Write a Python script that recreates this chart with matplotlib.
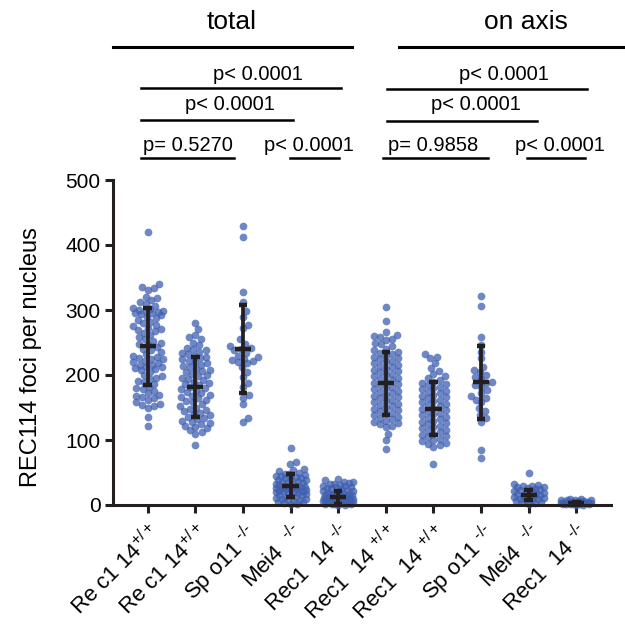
import numpy as np
import matplotlib
matplotlib.use('Agg')
import matplotlib.pyplot as plt
from matplotlib.lines import Line2D

plt.rcParams['font.family'] = ['Liberation Sans', 'DejaVu Sans']
plt.rcParams['mathtext.fontset'] = 'custom'
plt.rcParams['mathtext.rm'] = 'Liberation Sans'
plt.rcParams['mathtext.it'] = 'Liberation Sans'

# category labels (as in the figure, odd spacing included)
labels = ["Re c1 14$^{+/+}$", "Re c1 14$^{+/+}$", "Sp o11 $^{\u2010/\u2010}$", "Mei4  $^{\u2010/\u2010}$",
          "Rec1  14 $^{\u2010/\u2010}$", "Rec1  14 $^{+/+}$", "Rec1  14 $^{+/+}$", "Sp o11 $^{\u2010/\u2010}$",
          "Mei4  $^{\u2010/\u2010}$", "Rec1  14 $^{\u2010/\u2010}$"]

# foci per nucleus
rec114_wt_total = [420, 340, 336, 334, 331, 320, 318, 315, 312, 309, 306, 303, 301, 300, 299, 298, 297,
                   296, 295, 294, 292, 290, 287, 285, 282, 280, 277, 275, 273, 271, 270, 268, 265, 262,
                   258, 255, 252, 250, 248, 246, 243, 240, 238, 235, 232, 230, 228, 226, 225, 224, 222,
                   220, 218, 216, 215, 213, 212, 211, 210, 208, 205, 200, 198, 196, 194, 191, 189, 186,
                   182, 180, 178, 175, 172, 170, 168, 166, 164, 162, 158, 156, 154, 152, 150, 136, 122]
rec114_wt2_total = [280, 271, 262, 258, 255, 250, 246, 242, 240, 238, 236, 234, 232, 230, 228, 226, 224,
                    222, 220, 218, 216, 214, 212, 210, 208, 206, 204, 202, 200, 198, 196, 194, 192, 190,
                    188, 186, 184, 182, 180, 178, 176, 174, 172, 170, 168, 166, 164, 162, 160, 158, 155,
                    152, 150, 148, 146, 144, 142, 140, 138, 136, 134, 132, 130, 128, 126, 124, 122, 120,
                    118, 115, 112, 110, 93]
spo11_total = [430, 413, 327, 312, 298, 289, 277, 272, 255, 248, 245, 241, 240, 238, 234, 230, 228, 225,
               223, 222, 220, 218, 212, 205, 197, 187, 182, 169, 165, 155, 134, 128]
mei4_total = [88, 66, 63, 56, 54, 52, 50, 48, 47, 46, 45, 44, 43, 42, 41, 40, 39, 38, 37, 36, 35, 34, 33,
              32, 31, 30, 30, 29, 28, 28, 27, 26, 26, 25, 24, 24, 23, 22, 22, 21, 20, 20, 19, 18, 17, 16,
              15, 14, 13, 12, 11, 10, 9, 8, 7, 6, 5, 4, 3, 2, 1]
rec114_ko_total = [40, 38, 36, 35, 34, 33, 32, 31, 30, 29, 28, 27, 26, 25, 24, 23, 22, 21, 20, 19, 18, 18,
                   17, 16, 16, 15, 15, 14, 14, 13, 13, 12, 12, 11, 11, 10, 10, 9, 9, 8, 8, 7, 7, 6, 6, 5,
                   5, 4, 4, 3, 3, 2, 2, 1, 1, 0, 0]
rec114_wt_axis = [305, 283, 266, 262, 260, 258, 256, 254, 250, 247, 244, 240, 238, 236, 234, 232, 230, 228,
                  226, 224, 222, 220, 218, 216, 214, 212, 210, 208, 206, 204, 202, 200, 198, 196, 194, 192,
                  190, 188, 186, 184, 182, 180, 178, 176, 174, 172, 170, 168, 166, 164, 162, 160, 158, 156,
                  154, 152, 150, 148, 146, 144, 142, 140, 138, 136, 134, 132, 130, 128, 126, 124, 122, 120,
                  109, 100, 86]
rec114_wt2_axis = [232, 228, 226, 219, 211, 206, 202, 198, 195, 192, 190, 188, 186, 184, 182, 180, 178, 176,
                   174, 172, 170, 168, 166, 164, 162, 160, 158, 156, 154, 152, 150, 148, 146, 144, 142, 140,
                   138, 136, 134, 132, 130, 128, 126, 124, 122, 120, 118, 116, 114, 112, 110, 108, 106, 104,
                   102, 100, 98, 96, 94, 92, 90, 63]
spo11_axis = [322, 306, 259, 246, 236, 226, 213, 208, 204, 200, 197, 194, 190, 188, 185, 182, 177, 172, 168,
              165, 162, 158, 149, 145, 138, 134, 128, 85, 72]
mei4_axis = [49, 32, 31, 30, 29, 28, 27, 26, 25, 24, 23, 22, 21, 20, 19, 18, 17, 16, 15, 14, 13, 12, 11, 10,
             9, 8, 7, 6, 5, 4, 3, 2]
rec114_ko_axis = [10, 9, 8, 8, 7, 7, 6, 6, 5, 5, 5, 4, 4, 4, 3, 3, 3, 2, 2, 2, 1, 1, 1, 0, 0]

groups = [rec114_wt_total, rec114_wt2_total, spo11_total, mei4_total, rec114_ko_total,
          rec114_wt_axis, rec114_wt2_axis, spo11_axis, mei4_axis, rec114_ko_axis]

# mean and SD bars as drawn
means = [244, 181, 240, 30, 12, 187, 148, 189, 15, 3]
sds = [59, 46, 68, 18, 10, 48, 41, 56, 8, 2]

# p-value annotations: (text, text centre x px, text y px, line x0, line x1, line y)
pvals = [
    ("p< 0.0001", 258, 74, 141, 341, 88),
    ("p< 0.0001", 230, 105, 141, 293, 120),
    ("p= 0.5270", 188, 145, 141, 234, 158),
    ("p< 0.0001", 309, 145, 290, 339, 158),
    ("p< 0.0001", 504, 74, 387, 587, 89),
    ("p< 0.0001", 476, 105, 387, 537, 121),
    ("p= 0.9858", 433, 145, 383, 488, 158),
    ("p< 0.0001", 560, 145, 527, 585, 158),
]
headers = [("total", 232, 22, 113, 352, 47), ("on axis", 526, 22, 399, 624, 47)]

W, H = 625, 624
XPX = 47.6   # px per category
YPX = 0.65   # px per unit


def swarm(vals, d=6.4, cap=15.0):
    # beeswarm in pixel space, half width capped so dense groups overlap
    ys = np.asarray(vals, dtype=float) * YPX
    xs = np.zeros(len(ys))
    placed = []
    grid = np.linspace(-cap, cap, 41)
    for i in np.argsort(ys, kind='stable'):
        y = ys[i]
        near = [(a, b) for a, b in placed if abs(b - y) < d]
        cands = [0.0]
        for a, b in near:
            dx = np.sqrt(d * d - (b - y) ** 2)
            cands += [a + dx, a - dx]
        cands = [c for c in cands if abs(c) <= cap]
        cands.sort(key=abs)
        pos = None
        for c in cands:
            if all((c - a) ** 2 + (y - b) ** 2 >= d * d - 1e-6 for a, b in near):
                pos = c
                break
        if pos is None:
            best = -1
            for c in sorted(grid, key=abs):
                md = min((c - a) ** 2 + (y - b) ** 2 for a, b in near)
                if md > best + 1e-6:
                    best, pos = md, c
        xs[i] = pos
        placed.append((pos, y))
    return xs / XPX


fig = plt.figure(figsize=(6.25, 6.24), dpi=100)
ax = fig.add_axes([113 / W, 1 - 505 / H, (611 - 113) / W, (505 - 180) / H])

dark = '#231f20'
for i, vals in enumerate(groups):
    off = swarm(vals)
    ax.scatter(i + off, vals, s=31, color='#3f5fb0', alpha=0.75, linewidths=0,
               clip_on=False, zorder=2)
    m, s = means[i], sds[i]
    lo = max(m - s, 0)
    ax.plot([i, i], [lo, m + s], color=dark, lw=2.7, zorder=3, solid_capstyle='butt')
    ax.plot([i - 0.17, i + 0.17], [m, m], color=dark, lw=3.2, zorder=3, solid_capstyle='butt')
    ax.plot([i - 0.09, i + 0.09], [m + s, m + s], color=dark, lw=3.2, zorder=3, solid_capstyle='butt')
    ax.plot([i - 0.09, i + 0.09], [lo, lo], color=dark, lw=3.2, zorder=3, solid_capstyle='butt')

ax.set_xlim(-0.73, 9.73)
ax.set_ylim(0, 500)
ax.set_yticks([0, 100, 200, 300, 400, 500])
ax.set_xticks(range(len(labels)))
ax.set_xticklabels(labels, rotation=45, ha='right', va='top', rotation_mode='anchor', fontsize=16)
ax.tick_params(axis='y', labelsize=15, length=6, width=2.2, color=dark, pad=3)
ax.tick_params(axis='x', length=6, width=2.2, color=dark, pad=5)
for side in ['top', 'right']:
    ax.spines[side].set_visible(False)
for side in ['left', 'bottom']:
    ax.spines[side].set_linewidth(2.2)
    ax.spines[side].set_color(dark)
ax.set_ylabel('REC114 foci per nucleus', fontsize=17)
ax.yaxis.set_label_coords(-0.142, 0.455)


def fx(x):
    return x / W


def fy(y):
    return 1 - y / H


for txt, tx, ty, x0, x1, ly in headers:
    fig.text(fx(tx), fy(ty), txt, fontsize=19, ha='center', va='center')
    fig.add_artist(Line2D([fx(x0), fx(x1)], [fy(ly), fy(ly)], color='black', lw=2.2))
for txt, tx, ty, x0, x1, ly in pvals:
    fig.text(fx(tx), fy(ty), txt, fontsize=14.5, ha='center', va='center')
    fig.add_artist(Line2D([fx(x0), fx(x1)], [fy(ly), fy(ly)], color='black', lw=1.8))

fig.savefig('out.png', dpi=100)
